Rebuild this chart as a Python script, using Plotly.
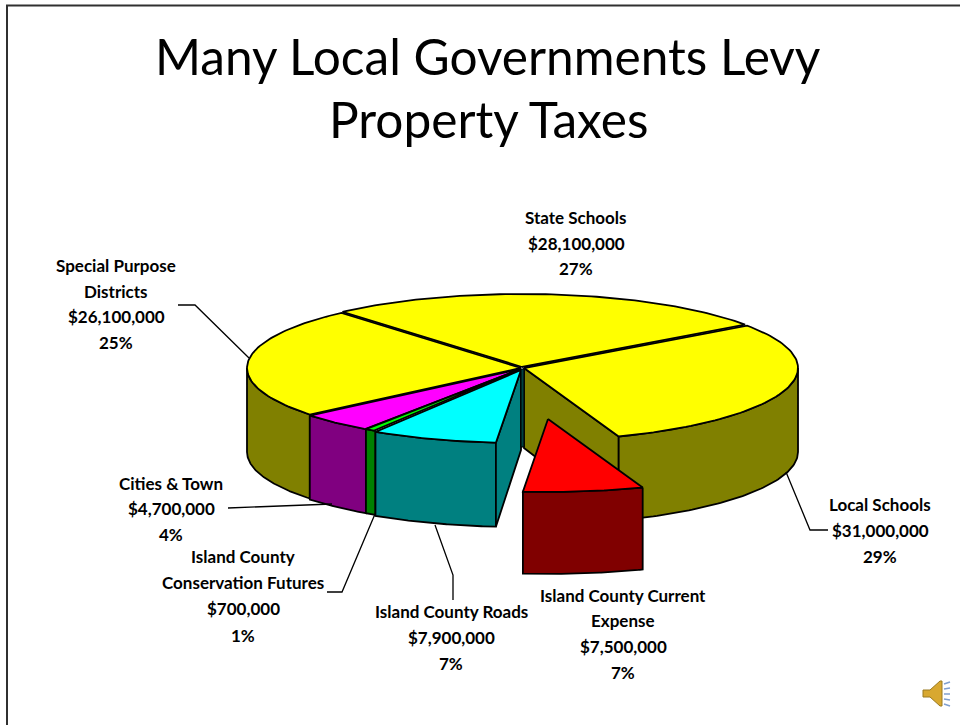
import numpy as np
import plotly.graph_objects as go

# ---- data ----
categories = ["Local Schools", "Island County Current Expense", "Island County Roads",
              "Island County Conservation Futures", "Cities & Town",
              "Special Purpose Districts", "State Schools"]
amounts = [31000000, 7500000, 7900000, 700000, 4700000, 26100000, 28100000]
percents = [29, 7, 7, 1, 4, 25, 27]

top_colors = ["#FFFF00", "#FF0000", "#00FFFF", "#00FF00", "#FF00FF", "#FFFF00", "#FFFF00"]
wall_colors = ["#808000", "#800000", "#008080", "#008000", "#800080", "#808000", "#808000"]
explode_dx = [2, 26, -1, -1, -1, -1, 0]
explode_dy = [1, 52, 3, 2, 2, 1, 0]
wall_depth = [84, 82, 84, 84, 84, 84, 84]

label_lines = [
    ["Local Schools", "$31,000,000", "29%"],
    ["Island County Current", "Expense", "$7,500,000", "7%"],
    ["Island County Roads", "$7,900,000", "7%"],
    ["Island County", "Conservation Futures", "$700,000", "1%"],
    ["Cities & Town", "$4,700,000", "4%"],
    ["Special Purpose", "Districts", "$26,100,000", "25%"],
    ["State Schools", "$28,100,000", "27%"],
]
label_x = [880, 623, 451, 243, 171, 116, 576]
label_y = [[504, 530, 556], [595, 620, 646, 672], [611, 637, 663],
           [556, 582, 608, 635], [483, 508, 534], [265, 291, 316, 342], [217, 243, 268]]

leaders = [
    ([786, 810, 828], [472, 530, 530]),
    ([435, 453, 453], [525, 575, 600]),
    ([375, 342, 327], [514, 592, 592]),
    ([332, 228], [504, 508]),
    ([249, 195, 178], [358, 305, 305]),
]

title_lines = ["Many Local Governments Levy", "Property Taxes"]

# ---- geometry ----
CX, CY, RX, RY = 522, 367, 274, 73
START = 35.5
FONT = "Lato"

total = sum(amounts)
sweeps = [a / total * 360 for a in amounts]
ends = START - np.cumsum(sweeps)
starts = np.concatenate([[START], ends[:-1]])


def arc(a0, a1, dx, dy):
    t = np.radians(np.linspace(a0, a1, 80))
    return CX + dx + RX * np.cos(t), CY + dy - RY * np.sin(t)


fig = go.Figure()


def poly(x, y, color, name):
    fig.add_trace(go.Scatter(
        x=list(x) + [x[0]], y=list(y) + [y[0]], mode="lines", fill="toself",
        fillcolor=color, line=dict(color="black", width=1.8),
        hoverinfo="skip", showlegend=False, name=name))


def top(i):
    ax, ay = arc(starts[i], ends[i], explode_dx[i], explode_dy[i])
    poly(np.r_[CX + explode_dx[i], ax], np.r_[CY + explode_dy[i], ay], top_colors[i], categories[i])


def wall(i):
    a0, a1 = min(starts[i], 0), max(ends[i], -180)
    if a0 <= a1:
        return
    ax, ay = arc(a0, a1, explode_dx[i], explode_dy[i])
    poly(np.r_[ax, ax[::-1]], np.r_[ay, ay[::-1] + wall_depth[i]], wall_colors[i], categories[i])


def cut(i, angle):
    ax, ay = arc(angle, angle, explode_dx[i], explode_dy[i])
    px, py = CX + explode_dx[i], CY + explode_dy[i]
    poly([px, ax[0], ax[0], px], [py, ay[0], ay[0] + wall_depth[i], py + wall_depth[i] - 4],
         wall_colors[i], categories[i])


for i in (5, 4, 3, 2):
    wall(i)
cut(2, starts[2])
cut(0, ends[0])
wall(0)
for i in (6, 5, 4, 3, 2, 0):
    top(i)
wall(1)
top(1)

for lx, ly in leaders:
    fig.add_trace(go.Scatter(x=lx, y=ly, mode="lines", line=dict(color="black", width=1.3),
                             hoverinfo="skip", showlegend=False))

annotations = []
for lines, x, ys in zip(label_lines, label_x, label_y):
    for line, y in zip(lines, ys):
        annotations.append(dict(x=x, y=y, text=line, showarrow=False, xref="x", yref="y",
                                xanchor="center", yanchor="middle",
                                font=dict(family=FONT, size=17, color="black", weight="bold")))
for line, y in zip(title_lines, [56, 119]):
    annotations.append(dict(x=488, y=y, text=line, showarrow=False, xref="x", yref="y",
                            xanchor="center", yanchor="middle",
                            font=dict(family=FONT, size=49.6, color="black")))

shapes = [
    dict(type="line", x0=7, x1=7, y0=5, y1=725, line=dict(color="#303030", width=2)),
    dict(type="line", x0=6, x1=960, y0=5.5, y1=5.5, line=dict(color="#303030", width=2)),
    # dark strip at the centre of the pie, between the two cut faces
    dict(type="rect", x0=521, x1=524, y0=369, y1=447, fillcolor="#004040", line=dict(color="black", width=1)),
    # speaker icon
    dict(type="path", path="M923,690 L930,690 L940,681 L942,681 L942,706 L940,706 L930,697 L923,697 Z",
         fillcolor="#D8A830", line=dict(color="#9A7A20", width=1)),
]
for y0, y1 in [(684, 682), (689, 688), (694, 694), (699, 700), (704, 706)]:
    shapes.append(dict(type="line", x0=944, x1=950, y0=y0, y1=y1, line=dict(color="#7F9FD0", width=1.5)))

fig.update_layout(
    width=960, height=725, margin=dict(l=0, r=0, t=0, b=0),
    paper_bgcolor="white", plot_bgcolor="white", showlegend=False,
    xaxis=dict(range=[0, 960], visible=False, fixedrange=True),
    yaxis=dict(range=[725, 0], visible=False, fixedrange=True),
    annotations=annotations, shapes=shapes,
)

fig.write_html("out.html", post_script="document.body.style.margin='0';document.body.style.overflow='hidden';",
               config={"displayModeBar": False})
